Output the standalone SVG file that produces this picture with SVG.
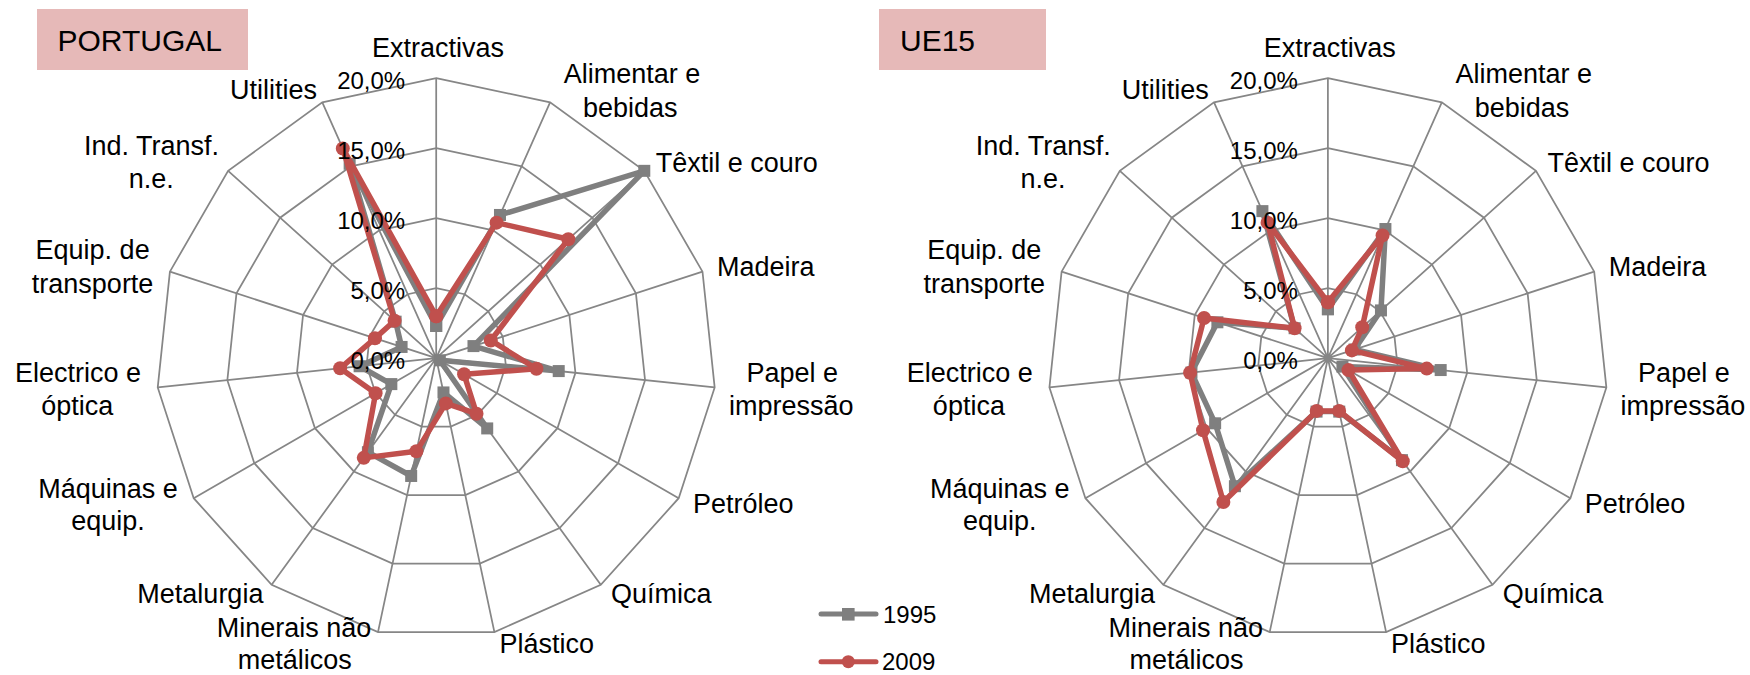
<svg xmlns="http://www.w3.org/2000/svg" xmlns:xlink="http://www.w3.org/1999/xlink" width="1750" height="675" viewBox="0 0 1750 675">
<style>
.grid{fill:none;stroke:#868686;stroke-width:1.75}
.s95{fill:none;stroke:#7F7F7F;stroke-width:5.5;stroke-linejoin:round;marker-start:url(#sq);marker-mid:url(#sq);marker-end:url(#sq)}
.s09{fill:none;stroke:#C0504D;stroke-width:5.5;stroke-linejoin:round;marker-start:url(#dot);marker-mid:url(#dot);marker-end:url(#dot)}
text{font-family:"Liberation Sans",Arial,sans-serif;fill:#000}
.cat{font-size:27px}
.mid{text-anchor:middle}
.end{text-anchor:end}
.ax{font-size:24px;text-anchor:end}
.title{font-size:30px}
.box{fill:#E6B9B8}
.leg{font-size:24px}
.l95{stroke:#7F7F7F;stroke-width:5;stroke-linecap:round}
.l09{stroke:#C0504D;stroke-width:5;stroke-linecap:round}
</style>
<defs>
<marker id="sq" markerWidth="14" markerHeight="14" refX="7" refY="7" markerUnits="userSpaceOnUse"><rect x="1" y="1" width="12" height="12" fill="#7F7F7F"/></marker>
<marker id="dot" markerWidth="16" markerHeight="16" refX="8" refY="8" markerUnits="userSpaceOnUse"><circle cx="8" cy="8" r="7" fill="#C0504D"/></marker>
<g id="grid">
<polygon class="grid" points="0,-280 113.89,-255.79 208.08,-187.36 266.30,-86.53 278.47,29.27 242.49,140 164.58,226.53 58.21,273.88 -58.21,273.88 -164.58,226.53 -242.49,140 -278.47,29.27 -266.30,-86.53 -208.08,-187.36 -113.89,-255.79"/>
<polygon class="grid" points="0,-210 85.42,-191.85 156.06,-140.52 199.72,-64.89 208.85,21.95 181.87,105 123.44,169.89 43.66,205.41 -43.66,205.41 -123.44,169.89 -181.87,105 -208.85,21.95 -199.72,-64.89 -156.06,-140.52 -85.42,-191.85"/>
<polygon class="grid" points="0,-140 56.94,-127.90 104.04,-93.68 133.15,-43.26 139.23,14.63 121.24,70 82.29,113.26 29.11,136.94 -29.11,136.94 -82.29,113.26 -121.24,70 -139.23,14.63 -133.15,-43.26 -104.04,-93.68 -56.94,-127.90"/>
<polygon class="grid" points="0,-70 28.47,-63.95 52.02,-46.84 66.57,-21.63 69.62,7.32 60.62,35 41.15,56.63 14.55,68.47 -14.55,68.47 -41.15,56.63 -60.62,35 -69.62,7.32 -66.57,-21.63 -52.02,-46.84 -28.47,-63.95"/>
<path class="grid" d="M0,0L0,-280M0,0L113.89,-255.79M0,0L208.08,-187.36M0,0L266.30,-86.53M0,0L278.47,29.27M0,0L242.49,140M0,0L164.58,226.53M0,0L58.21,273.88M0,0L-58.21,273.88M0,0L-164.58,226.53M0,0L-242.49,140M0,0L-278.47,29.27M0,0L-266.30,-86.53M0,0L-208.08,-187.36M0,0L-113.89,-255.79"/>
</g>
</defs>

<g id="portugal">
<rect class="box" x="37" y="9" width="211" height="61"/>
<text class="title" x="57.5" y="50.7">PORTUGAL</text>
<use xlink:href="#grid" transform="translate(436.2,358.2)"/>
<g id="portugal-series" transform="translate(436.2,358.2)">
<polygon class="s95" points="0,-32.2 63.78,-143.24 208.08,-187.36 37.28,-12.11 122.52,12.88 3.64,2.1 51.02,70.22 7.28,34.24 -25.03,117.77 -68.30,94.01 -44.86,25.9 -76.58,8.05 -34.62,-11.25 -40.58,-36.53 -86.55,-194.40"/>
<polygon class="s09" points="0,-42 60.36,-135.57 132.13,-118.97 54.59,-17.74 100.25,10.54 27.89,16.1 40.32,55.50 9.61,45.19 -19.79,93.12 -72.42,99.67 -60.62,35 -96.07,10.10 -61.25,-19.90 -41.62,-37.47 -93.39,-209.75"/>
</g>
<g id="portugal-axis" transform="translate(436.2,0)">
<text class="ax" x="-31" y="88.5">20,0%</text>
<text class="ax" x="-31" y="158.7">15,0%</text>
<text class="ax" x="-31" y="228.7">10,0%</text>
<text class="ax" x="-31" y="298.7">5,0%</text>
<text class="ax" x="-31" y="368.7">0,0%</text>
</g>
<g id="portugal-labels" transform="translate(436.2,0)">
<text class="cat mid" x="1.8" y="56.5">Extractivas</text>
<text class="cat mid" x="195.8" y="83.3">Alimentar e</text>
<text class="cat mid" x="194.1" y="116.7">bebidas</text>
<text class="cat" x="219.5" y="171.7">Têxtil e couro</text>
<text class="cat" x="280.8" y="276">Madeira</text>
<text class="cat mid" x="356" y="381.7">Papel e</text>
<text class="cat mid" x="355" y="415">impressão</text>
<text class="cat" x="256.8" y="513.3">Petróleo</text>
<text class="cat" x="174.8" y="603.3">Química</text>
<text class="cat" x="63.2" y="653.3">Plástico</text>
<text class="cat mid" x="-142.2" y="636.7">Minerais não</text>
<text class="cat mid" x="-141.5" y="669.3">metálicos</text>
<text class="cat end" x="-172.8" y="603.3">Metalurgia</text>
<text class="cat mid" x="-328.2" y="497.7">Máquinas e</text>
<text class="cat mid" x="-328.2" y="530">equip.</text>
<text class="cat mid" x="-358.2" y="381.7">Electrico e</text>
<text class="cat mid" x="-359" y="415">óptica</text>
<text class="cat mid" x="-343.6" y="259.3">Equip. de</text>
<text class="cat mid" x="-343.6" y="293.3">transporte</text>
<text class="cat mid" x="-284.7" y="155">Ind. Transf.</text>
<text class="cat mid" x="-285" y="188.3">n.e.</text>
<text class="cat end" x="-119.2" y="99.3">Utilities</text>
</g>
</g>

<g id="ue15">
<rect class="box" x="879" y="9" width="167" height="61"/>
<text class="title" x="900" y="50.7">UE15</text>
<use xlink:href="#grid" transform="translate(1327.9,358.2)"/>
<g id="ue15-series" transform="translate(1327.9,358.2)">
<polygon class="s95" points="0,-49 57.51,-129.18 53.06,-47.78 26.63,-8.65 112.78,11.85 14.55,8.4 74.06,101.94 11.35,53.41 -11.35,53.41 -92.99,127.99 -112.76,65.1 -136.45,14.34 -110.51,-35.91 -33.29,-29.98 -65.49,-147.08"/>
<polygon class="s09" points="0,-56 54.67,-122.78 34.33,-30.91 23.97,-7.79 98.86,10.39 20.61,11.9 74.88,103.07 11.21,52.72 -11.21,52.72 -104.51,143.84 -124.88,72.1 -137.84,14.49 -123.83,-40.23 -33.29,-29.98 -60.36,-135.57"/>
</g>
<g id="ue15-axis" transform="translate(1327.9,0)">
<text class="ax" x="-30" y="88.5">20,0%</text>
<text class="ax" x="-30" y="158.7">15,0%</text>
<text class="ax" x="-30" y="228.7">10,0%</text>
<text class="ax" x="-30" y="298.7">5,0%</text>
<text class="ax" x="-30" y="368.7">0,0%</text>
</g>
<g id="ue15-labels" transform="translate(1327.9,0)">
<text class="cat mid" x="1.8" y="56.5">Extractivas</text>
<text class="cat mid" x="195.8" y="83.3">Alimentar e</text>
<text class="cat mid" x="194.1" y="116.7">bebidas</text>
<text class="cat" x="219.5" y="171.7">Têxtil e couro</text>
<text class="cat" x="280.8" y="276">Madeira</text>
<text class="cat mid" x="356" y="381.7">Papel e</text>
<text class="cat mid" x="355" y="415">impressão</text>
<text class="cat" x="256.8" y="513.3">Petróleo</text>
<text class="cat" x="174.8" y="603.3">Química</text>
<text class="cat" x="63.2" y="653.3">Plástico</text>
<text class="cat mid" x="-142.2" y="636.7">Minerais não</text>
<text class="cat mid" x="-141.5" y="669.3">metálicos</text>
<text class="cat end" x="-172.8" y="603.3">Metalurgia</text>
<text class="cat mid" x="-328.2" y="497.7">Máquinas e</text>
<text class="cat mid" x="-328.2" y="530">equip.</text>
<text class="cat mid" x="-358.2" y="381.7">Electrico e</text>
<text class="cat mid" x="-359" y="415">óptica</text>
<text class="cat mid" x="-343.6" y="259.3">Equip. de</text>
<text class="cat mid" x="-343.6" y="293.3">transporte</text>
<text class="cat mid" x="-284.7" y="155">Ind. Transf.</text>
<text class="cat mid" x="-285" y="188.3">n.e.</text>
<text class="cat end" x="-119.2" y="99.3">Utilities</text>
</g>
</g>

<g id="legend">
<line class="l95" x1="821" y1="614" x2="876" y2="614"/>
<rect x="842" y="608" width="12.6" height="12.6" fill="#7F7F7F"/>
<text class="leg" x="883" y="622.5">1995</text>
<line class="l09" x1="821" y1="661.7" x2="876" y2="661.7"/>
<circle cx="848.3" cy="661.7" r="6.5" fill="#C0504D"/>
<text class="leg" x="882" y="670">2009</text>
</g>
</svg>
